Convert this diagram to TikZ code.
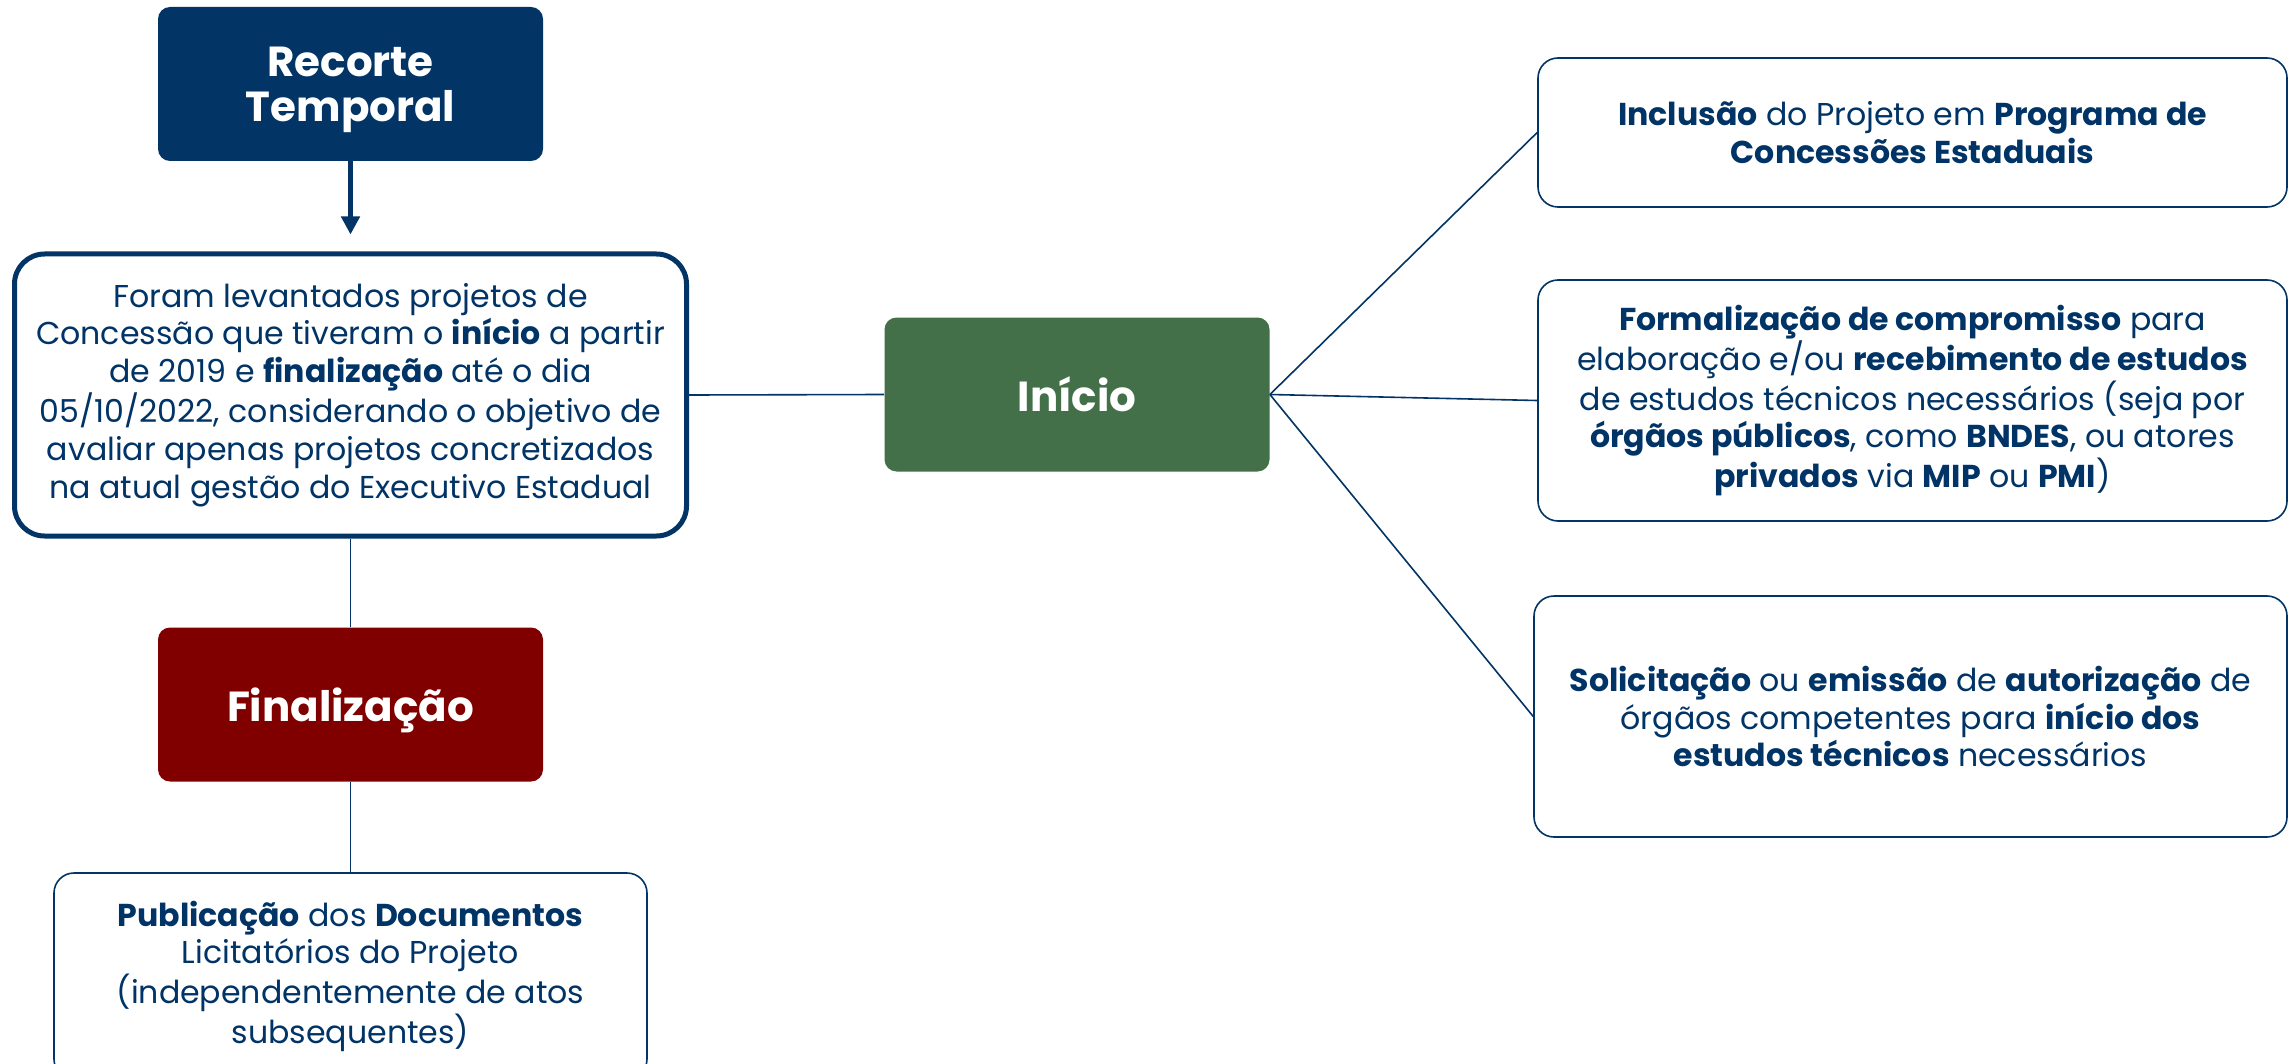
\documentclass[tikz,border=0pt]{standalone}
\usepackage{fontspec}
\setmainfont{Poppins}
\usetikzlibrary{arrows.meta}
\definecolor{navy}{RGB}{2,52,101}
\definecolor{txtnavy}{RGB}{0,51,102}
\definecolor{leaf}{RGB}{67,112,72}
\definecolor{wine}{RGB}{128,0,0}
\tikzset{
  px/.style={x=0.5pt,y=-0.5pt},
  headbox/.style={rounded corners=6pt, minimum width=192.5pt, minimum height=77pt,
    inner sep=0pt, text depth=0pt, text=white, align=center, font=\fontsize{21}{22.6}\selectfont\bfseries},
  infobox/.style={draw=navy, line width=0.8pt, rounded corners=10pt, fill=white,
    inner sep=0pt, text=txtnavy, align=center, font=\fontsize{15.8}{18.8}\selectfont},
  link/.style={draw=navy, line width=0.8pt},
}
\begin{document}
\begin{tikzpicture}[px]
\useasboundingbox (0,0) rectangle (2290,1064);
\fill[white] (0,0) rectangle (2290,1064);

\node[headbox, fill=navy] (rec) at (350.5,84) {Recorte\\Temporal};
\node[infobox, line width=2.5pt, rounded corners=15pt, minimum width=336pt, minimum height=141pt] (main) at (350.5,395)
  {Foram levantados projetos de\\ Concessão que tiveram o \textbf{início} a partir\\ de 2019 e \textbf{finalização} até o dia\\ 05/10/2022, considerando o objetivo de\\ avaliar apenas projetos concretizados\\ na atual gestão do Executivo Estadual};
\node[headbox, fill=leaf] (ini) at (1077,394.5) {Início};
\node[headbox, fill=wine] (fin) at (350.5,704.5) {Finalização};
\node[infobox, minimum width=296.5pt, minimum height=103pt] (pub) at (350.5,976)
  {\textbf{Publicação} dos \textbf{Documentos}\\ Licitatórios do Projeto\\ (independentemente de atos\\ subsequentes)};

\node[infobox, minimum width=374.5pt, minimum height=74.5pt] (b1) at (1912.5,132.5)
  {\textbf{Inclusão} do Projeto em \textbf{Programa de}\\ \textbf{Concessões Estaduais}};
\node[infobox, minimum width=374.5pt, minimum height=120.5pt] (b2) at (1912.5,400.5)
  {\textbf{Formalização de compromisso} para\\ elaboração e/ou \textbf{recebimento de estudos}\\ de estudos técnicos necessários (seja por\\ \textbf{órgãos públicos}, como \textbf{BNDES}, ou atores\\ \textbf{privados} via \textbf{MIP} ou \textbf{PMI})};
\node[infobox, minimum width=376.5pt, minimum height=120.5pt] (b3) at (1910.5,716.5)
  {\textbf{Solicitação} ou \textbf{emissão} de \textbf{autorização} de\\ órgãos competentes para \textbf{início dos}\\ \textbf{estudos técnicos} necessários};

\draw[navy, line width=2.4pt, shorten >=8.5pt, -{Triangle[length=9pt,width=9pt]}] (rec.south) -- (main.north);
\draw[link] (main.east) -- (ini.west);
\draw[link] (main.south) -- (fin.north);
\draw[link] (fin.south) -- (pub.north);
\draw[link] (ini.east) -- (b1.west);
\draw[link] (ini.east) -- (b2.west);
\draw[link] (ini.east) -- (b3.west);
\end{tikzpicture}
\end{document}
